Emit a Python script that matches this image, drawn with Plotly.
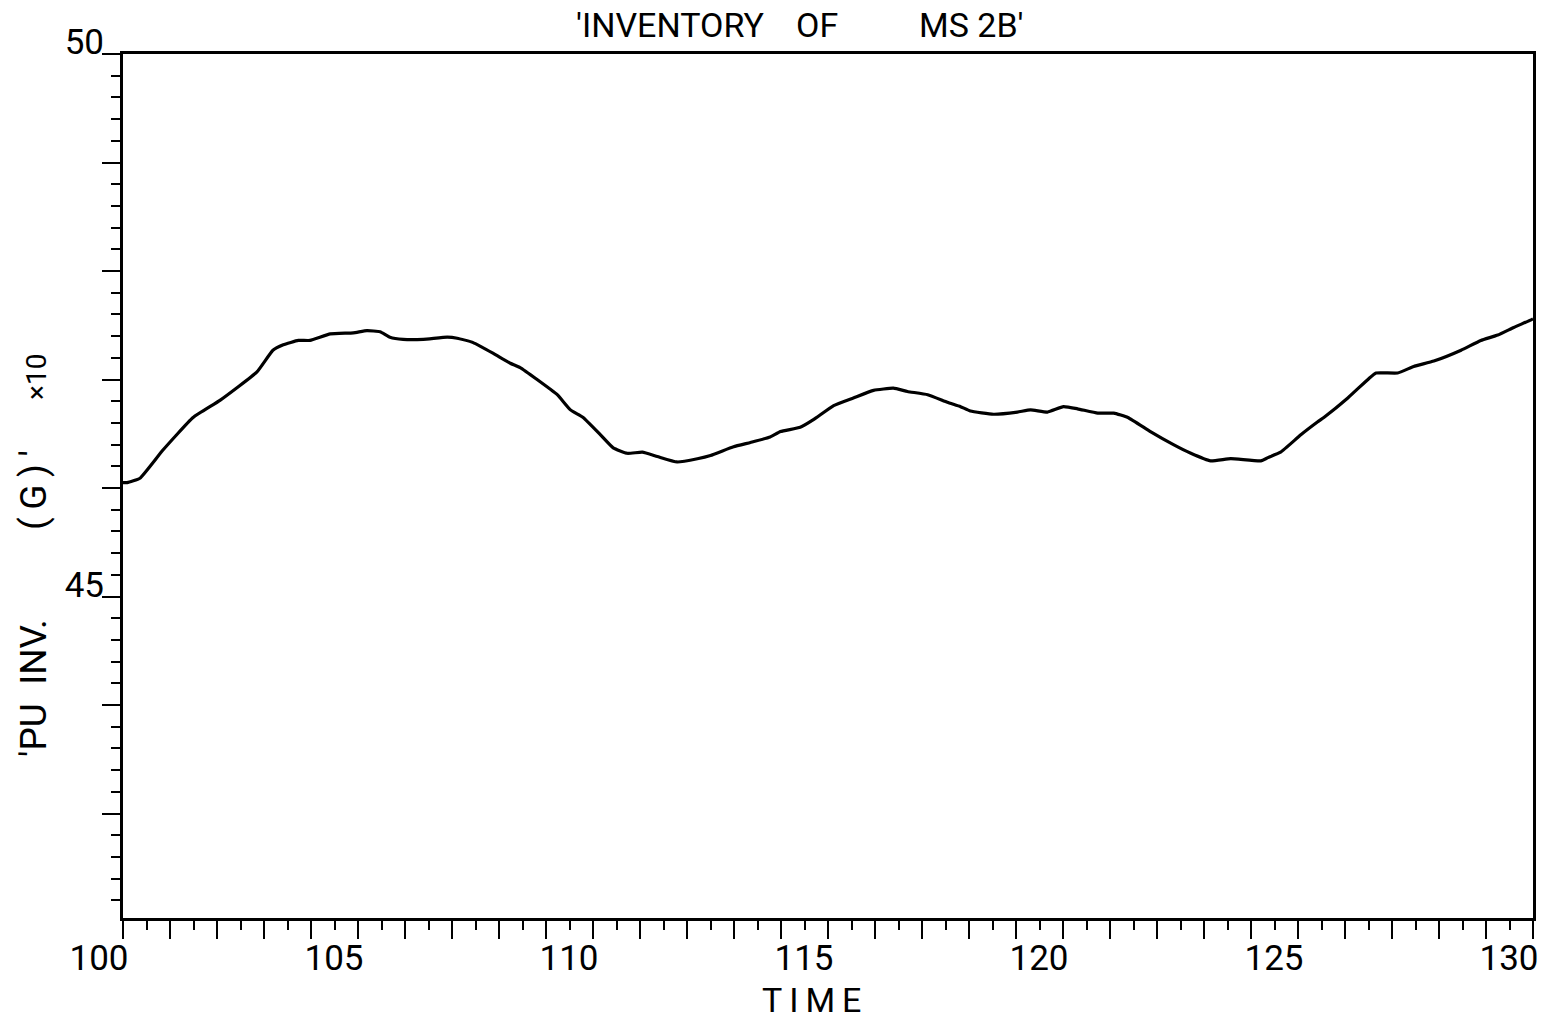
import plotly.graph_objects as go

# ---- data ----
time = [100.0, 100.09, 100.36, 100.85, 101.49, 102.07, 102.85, 103.19, 103.41, 103.73,
        103.98, 104.41, 104.90, 105.19, 105.47, 105.68, 105.96, 106.39, 106.90, 107.11,
        107.45, 107.88, 108.24, 108.45, 108.81, 109.24, 109.52, 109.79, 110.16, 110.43,
        110.73, 111.05, 111.37, 111.79, 112.22, 112.50, 112.99, 113.35, 113.77, 113.99,
        114.41, 114.69, 115.12, 115.54, 115.97, 116.39, 116.69, 117.12, 117.54, 117.82,
        118.03, 118.52, 119.03, 119.31, 119.67, 120.01, 120.31, 120.74, 121.08, 121.38,
        121.86, 122.35, 122.72, 123.14, 123.57, 124.21, 124.36, 124.63, 125.06, 125.42,
        125.55, 126.06, 126.51, 126.66, 127.12, 127.46, 127.89, 128.47, 128.89, 129.25,
        129.59, 129.96, 130.0]
pu_inv = [46.05, 46.05, 46.09, 46.35, 46.65, 46.81, 47.07, 47.27, 47.32, 47.36,
          47.36, 47.42, 47.43, 47.45, 47.44, 47.39, 47.37, 47.37, 47.39, 47.38,
          47.34, 47.24, 47.15, 47.11, 47.00, 46.86, 46.72, 46.65, 46.49, 46.37,
          46.32, 46.33, 46.29, 46.24, 46.27, 46.30, 46.38, 46.42, 46.47, 46.52,
          46.56, 46.63, 46.76, 46.83, 46.90, 46.92, 46.89, 46.86, 46.79, 46.75,
          46.71, 46.68, 46.70, 46.72, 46.70, 46.75, 46.73, 46.69, 46.69, 46.65,
          46.52, 46.40, 46.32, 46.25, 46.27, 46.25, 46.28, 46.33, 46.49, 46.61,
          46.65, 46.83, 47.01, 47.06, 47.06, 47.12, 47.17, 47.27, 47.36, 47.41,
          47.48, 47.55, 47.56]

x_major = list(range(100, 131))
x_labels = [str(v) if v % 5 == 0 else "" for v in x_major]
y_major = list(range(43, 51))
y_labels = [str(v) if v % 5 == 0 else "" for v in y_major]

title_parts = ["'INVENTORY", "OF", "MS\u00a02B'"]
y_title_parts = ["'PU\u00a0\u00a0INV.", "(\u2009G\u2009)\u2009'", "\u00d710"]

FONT = "Roboto, sans-serif"
PLOT_L, PLOT_R, PLOT_T, PLOT_B = 123, 1533, 54, 918
PW, PH = PLOT_R - PLOT_L, PLOT_B - PLOT_T


def px_x(px):
    return (px - PLOT_L) / PW


def px_y(py):
    return (PLOT_B - py) / PH


fig = go.Figure()
fig.add_trace(go.Scatter(x=time, y=pu_inv, mode="lines",
                         line=dict(color="black", width=3.2, shape="spline", smoothing=0.4),
                         showlegend=False, hoverinfo="skip"))

axis_common = dict(showline=True, linecolor="black", linewidth=3, mirror=True,
                   showgrid=False, zeroline=False, ticks="outside", tickcolor="black",
                   ticklen=18, tickwidth=2, automargin=False,
                   tickfont=dict(family=FONT, size=35, color="black"))

fig.update_xaxes(range=[100, 130.0001], tickmode="array", tickvals=x_major, ticktext=x_labels,
                 minor=dict(ticks="outside", ticklen=9, tickwidth=2, tickcolor="black",
                            dtick=0.5, tick0=100),
                 ticklabelshift=-24, ticklabelstandoff=-11,
                 **axis_common)
fig.update_yaxes(range=[42.037, 50.0001], tickmode="array", tickvals=y_major, ticktext=y_labels,
                 minor=dict(ticks="outside", ticklen=9, tickwidth=2, tickcolor="black",
                            dtick=0.2, tick0=42),
                 ticklabelshift=-12, ticklabelstandoff=-9,
                 **axis_common)

# title pieces
for txt, cx in zip(title_parts, [670, 817, 971]):
    fig.add_annotation(text=txt, xref="paper", yref="paper", x=px_x(cx), y=px_y(25),
                       yanchor="middle", xanchor="center", showarrow=False,
                       font=dict(family=FONT, size=34, color="black"))

# x-axis title
fig.add_annotation(text="T\u2009I\u2009M\u2009E",
                   xref="paper", yref="paper", x=px_x(811), y=px_y(1000),
                   yanchor="middle", xanchor="center", showarrow=False,
                   font=dict(family=FONT, size=34, color="black"))

# y-axis title pieces
for txt, cx, cy, fs in zip(y_title_parts, [33, 33, 36], [688, 490, 377], [37, 37, 28]):
    fig.add_annotation(text=txt, xref="paper", yref="paper", x=px_x(cx), y=px_y(cy),
                       xanchor="center", yanchor="middle", textangle=-90,
                       showarrow=False, font=dict(family=FONT, size=fs, color="black"))

fig.update_layout(width=1560, height=1020,
                  margin=dict(l=PLOT_L, r=1560 - PLOT_R, t=PLOT_T, b=1020 - PLOT_B),
                  paper_bgcolor="white", plot_bgcolor="white")

fig.write_html("out.html")
